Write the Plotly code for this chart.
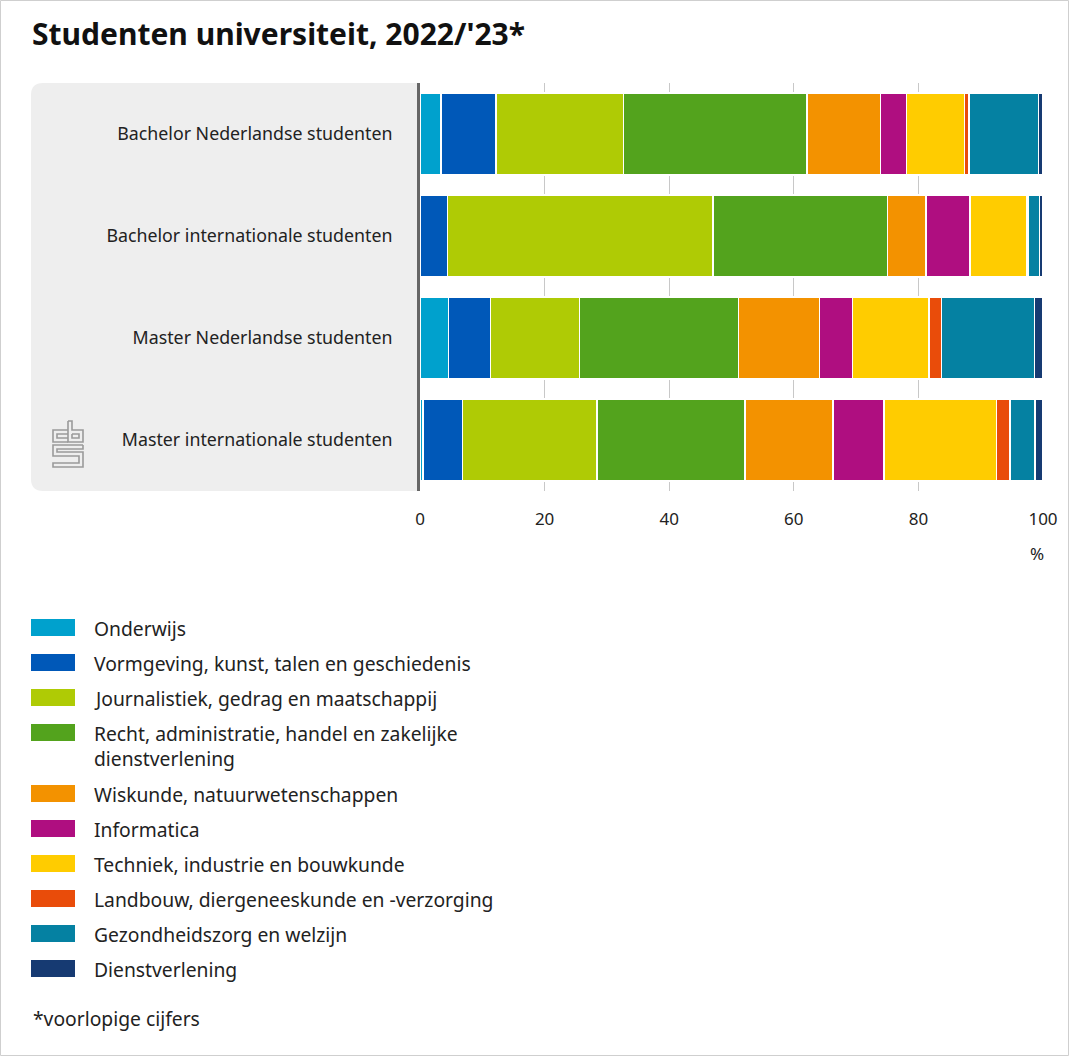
import plotly.graph_objects as go

# ---------------- data ----------------
categories = [
    "Bachelor Nederlandse studenten",
    "Bachelor internationale studenten",
    "Master Nederlandse studenten",
    "Master internationale studenten",
]
series_names = [
    "Onderwijs",
    "Vormgeving, kunst, talen en geschiedenis",
    "Journalistiek, gedrag en maatschappij",
    "Recht, administratie, handel en zakelijke<br>dienstverlening",
    "Wiskunde, natuurwetenschappen",
    "Informatica",
    "Techniek, industrie en bouwkunde",
    "Landbouw, diergeneeskunde en -verzorging",
    "Gezondheidszorg en welzijn",
    "Dienstverlening",
]
colors = ["#00a1cd", "#0058b8", "#afcb05", "#53a31d", "#f39200",
          "#af0e80", "#ffcc00", "#e94c0a", "#0581a2", "#163a72"]

onderwijs      = [3.4, 0.1, 4.6, 0.5]
vormgeving     = [8.8, 4.3, 6.7, 6.3]
journalistiek  = [20.5, 42.6, 14.3, 21.6]
recht          = [29.4, 28.0, 25.5, 23.8]
wiskunde       = [11.8, 6.2, 13.0, 14.1]
informatica    = [4.2, 7.1, 5.3, 8.2]
techniek       = [9.3, 9.1, 12.3, 18.0]
landbouw       = [0.7, 0.3, 2.0, 2.2]
gezondheid     = [11.2, 1.7, 14.9, 4.0]
dienst         = [0.7, 0.6, 1.4, 1.3]
values = [onderwijs, vormgeving, journalistiek, recht, wiskunde,
          informatica, techniek, landbouw, gezondheid, dienst]

x_ticks = [0, 20, 40, 60, 80, 100]
title_text = "Studenten universiteit, 2022/'23*"
footnote = "*voorlopige cijfers"

# ---------------- layout geometry ----------------
FW, FH = 1069, 1056
ML, MR, MT, MB = 420, 26, 83, 565
PW = FW - ML - MR
PH = FH - MT - MB
FONT = "Noto Sans"
TXT = "#222222"


def px(x):
    return (x - ML) / PW


def py(y):
    return (FH - MB - y) / PH


fig = go.Figure()
for name, vals, col in zip(series_names, values, colors):
    fig.add_trace(go.Bar(
        y=categories, x=vals, name=name, orientation="h",
        marker=dict(color=col, line=dict(color="white", width=1.5)),
        showlegend=False,
    ))

shapes = []
# outer border
shapes.append(dict(type="rect", xref="paper", yref="paper",
                   x0=px(0.5), x1=px(FW - 0.5), y0=py(0.5), y1=py(FH - 0.5),
                   line=dict(color="#cfcfcf", width=1), fillcolor="rgba(0,0,0,0)",
                   layer="below"))
# grey rounded panel behind category labels
r = 12
x0p, x1p, y0p, y1p = 31, 419, 83, 491
path = (f"M {px(x1p)},{py(y0p)} L {px(x0p + r)},{py(y0p)} "
        f"Q {px(x0p)},{py(y0p)} {px(x0p)},{py(y0p + r)} "
        f"L {px(x0p)},{py(y1p - r)} Q {px(x0p)},{py(y1p)} {px(x0p + r)},{py(y1p)} "
        f"L {px(x1p)},{py(y1p)} Z")
shapes.append(dict(type="path", xref="paper", yref="paper", path=path,
                   fillcolor="#eeeeee", line=dict(width=0), layer="below"))

# CBS logo (simple strokes)
logo_paths = [
    # c
    [(68, 430), (53, 430), (53, 442), (68, 442)],
    [(68, 434), (57, 434), (57, 438), (68, 438)],
    # b
    [(68, 421), (68, 442), (83, 442), (83, 430), (72, 430), (72, 421), (68, 421)],
    [(72, 434), (79, 434), (79, 438), (72, 438), (72, 434)],
    # S
    [(83, 445), (53, 445), (53, 456), (79, 456), (79, 463), (53, 463), (53, 467), (83, 467),
     (83, 452), (57, 452), (57, 449), (83, 449), (83, 445)],
]
for pts in logo_paths:
    d = "M " + " L ".join(f"{px(a)},{py(b)}" for a, b in pts)
    shapes.append(dict(type="path", xref="paper", yref="paper", path=d,
                       line=dict(color="#9a9a9a", width=1.6), layer="above"))

annotations = []
annotations.append(dict(text=f"<b>{title_text}</b>", xref="paper", yref="paper",
                        x=px(30), y=py(34), xanchor="left", yanchor="middle",
                        showarrow=False, font=dict(family=FONT, size=30, color="#111111")))
annotations.append(dict(text="%", xref="paper", yref="paper",
                        x=px(1037), y=py(553), xanchor="center", yanchor="middle",
                        showarrow=False, font=dict(family=FONT, size=17, color=TXT)))

# legend drawn manually
leg_tops = [619, 654, 689, 724, 785, 820, 855, 890, 925, 960]
for name, col, top in zip(series_names, colors, leg_tops):
    shapes.append(dict(type="rect", xref="paper", yref="paper",
                       x0=px(31), x1=px(75), y0=py(top), y1=py(top + 17),
                       fillcolor=col, line=dict(width=0)))
    annotations.append(dict(text=name, xref="paper", yref="paper",
                            x=px(92), y=py(top - 6), xanchor="left", yanchor="top",
                            align="left", showarrow=False,
                            font=dict(family=FONT, size=19.3, color=TXT)))

annotations.append(dict(text=footnote, xref="paper", yref="paper",
                        x=px(31), y=py(1018), xanchor="left", yanchor="middle",
                        showarrow=False, font=dict(family=FONT, size=19.3, color=TXT)))

fig.update_layout(
    width=FW, height=FH,
    margin=dict(l=ML, r=MR, t=MT, b=MB, pad=0),
    barmode="stack", bargap=0.2,
    paper_bgcolor="white", plot_bgcolor="white",
    font=dict(family=FONT, color=TXT),
    shapes=shapes, annotations=annotations,
    xaxis=dict(range=[0, 100], tickvals=x_ticks, showgrid=True,
               gridcolor="#c8c8c8", gridwidth=1, zeroline=False,
               showline=False, ticks="", ticklabelstandoff=16,
               tickfont=dict(family=FONT, size=17, color=TXT), fixedrange=True),
    yaxis=dict(autorange="reversed", showgrid=False, zeroline=False,
               showline=True, linecolor="#666666", linewidth=3,
               ticks="", ticklabelstandoff=21,
               tickfont=dict(family=FONT, size=17.8, color=TXT), fixedrange=True),
)

fig.write_html("out.html", config={"displayModeBar": False},
               post_script="document.body.style.margin='0';document.body.style.padding='0';")
